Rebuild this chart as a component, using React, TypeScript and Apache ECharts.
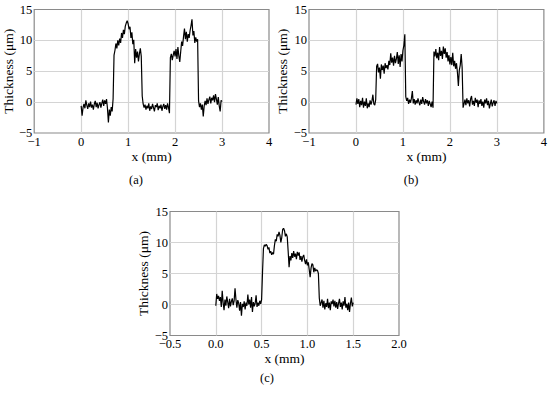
import React, { useEffect, useRef } from "react";
import * as echarts from "echarts";

// Sampling step (mm) of each profile
const stepA = 0.02;
const stepB = 0.02;
const stepC = 0.01;

// Thickness profiles (µm)
const thicknessA = [
  -0.6, -2.2, -0.9, -0.3, -1.0, 0.3, -0.5, -1.1, -0.2, -0.8,
  0.1, -0.9, -0.4, -1.2, -0.3, 0.2, -0.8, -0.1, -1.0, -0.4,
  0.0, -0.9, -0.2, 0.4, -0.6, 0.3, -0.3, 0.5, -1.0, -3.3,
  -1.2, -2.2, -0.8, -1.5, 0.5, 7.6, 8.4, 9.5, 8.7, 10.0,
  9.2, 10.3, 9.6, 11.2, 10.4, 11.7, 11.0, 12.3, 12.8, 13.2,
  12.7, 11.8, 12.2, 10.4, 11.3, 9.4, 10.1, 6.3, 8.6, 7.2,
  8.2, 6.6, 7.8, 8.7, 7.4, 1.0, -0.3, -0.9, -0.4, -1.2,
  -0.6, -1.0, -0.2, -1.4, -0.7, -1.1, -0.3, -0.9, -1.5, -0.5,
  -0.8, -0.2, -1.3, -0.6, -1.0, -0.4, -1.4, -0.7, -0.3, -1.1,
  -0.5, -1.2, -0.2, -0.9, -1.8, 7.2, 7.8, 6.8, 7.6, 8.3,
  7.4, 8.6, 7.0, 8.9, 7.5, 6.5, 8.2, 9.8, 9.1, 10.6,
  11.9, 10.2, 11.4, 9.8, 11.0, 10.4, 11.6, 12.4, 13.4, 10.8,
  11.5, 9.6, 10.5, 9.8, 10.2, 0.2, -0.8, -0.2, -1.2, -0.4,
  -2.3, -0.6, 0.2, -0.5, 0.6, -0.3, 0.4, 0.9, -0.2, 0.7,
  0.3, 1.1, 0.0, 1.3, 0.5, -0.4, 0.8, -0.6, -1.5, 0.3,
  0.1,
];

const thicknessB = [
  -0.4, 0.6, -0.3, 0.5, -0.8, 0.2, -0.5, 0.7, -0.9, 0.1,
  -0.6, 0.6, -1.0, -0.2, -0.8, 0.3, -0.4, 0.2, 1.2, -0.3,
  -0.5, 0.4, 5.8, 6.2, 4.8, 5.6, 3.8, 6.1, 5.2, 5.9,
  4.6, 6.3, 5.5, 6.0, 5.3, 6.7, 6.0, 7.9, 6.4, 7.2,
  5.9, 7.5, 6.3, 7.0, 8.1, 6.2, 7.6, 5.7, 7.8, 6.6,
  8.4, 9.2, 11.0, 0.9, 0.2, 0.7, -0.3, 0.4, -0.1, 0.6,
  1.8, -0.2, 0.5, -0.4, 0.3, -0.2, 0.6, 0.0, -0.5, 0.4,
  -0.3, 0.8, 0.1, -0.4, 0.5, -0.2, 0.3, -0.6, 0.2, -0.3,
  -0.8, 0.1, -0.9, 8.2, 7.4, 8.6, 7.1, 8.0, 6.8, 8.9,
  7.5, 8.3, 7.0, 9.0, 7.8, 8.7, 7.2, 8.1, 6.6, 7.6,
  6.1, 7.3, 6.0, 8.0, 5.8, 6.7, 5.4, 6.3, 4.8, 2.6,
  5.2, 6.0, 7.8, 5.6, -0.9, -0.3, 0.4, -0.5, 0.6, -0.2,
  0.3, -0.7, 0.5, 1.0, -0.4, 0.2, -0.6, 0.7, -0.1, 0.4,
  -0.8, 0.3, -0.3, 0.5, -0.6, 0.1, -0.9, 0.4, -0.2, 0.6,
  -0.5, 0.2, -1.0, -0.3, 0.4, -0.7, -0.1, 0.3, -0.6, 0.2,
  -0.2,
];

const thicknessC = [
  -0.2, 1.7, 0.9, 1.4, 0.6, 1.2, -0.4, 2.2, 0.3, -0.9,
  0.8, -0.2, 1.3, 0.4, -0.6, 0.9, -0.3, 0.5, 1.0, -0.1,
  0.6, 2.6, 0.8, -0.5, 0.7, 0.2, -1.0, 0.4, -1.8, 0.1,
  -0.4, 0.5, -0.8, 0.3, -0.2, 1.6, 0.0, 0.8, -0.5, 1.2,
  -1.2, 0.4, -0.3, 0.2, 1.5, -0.4, 0.3, -0.2, 0.6, 0.1,
  0.8, 5.2, 9.0, 9.6, 9.4, 9.7, 9.5, 8.9, 9.2, 8.3,
  8.6, 8.0, 8.4, 8.1, 9.5, 10.5, 10.2, 11.3, 11.0, 11.7,
  11.2, 10.0, 10.8, 12.1, 12.3, 11.9, 11.0, 11.4, 10.9, 8.6,
  6.0, 7.8, 7.1, 8.3, 7.5, 8.6, 7.7, 8.2, 7.3, 8.5,
  7.9, 8.4, 7.2, 7.8, 6.9, 7.7, 8.0, 7.1, 6.5, 7.3,
  6.3, 6.8, 5.6, 4.4, 5.9, 6.6, 6.4, 5.2, 5.9, 5.4,
  5.6, 5.5, 5.0, 1.0, -0.2, 0.3, 0.8, -0.5, 0.6, -0.8,
  0.2, -0.4, 0.9, -0.6, 0.3, -0.9, 0.5, 0.1, 0.8, -0.3,
  0.6, -0.5, 0.4, -0.7, 0.2, 0.9, -0.4, 0.3, -0.8, 0.5,
  -0.2, 1.2, -0.5, 0.1, -0.9, 0.3, -1.2, 0.2, 1.1, -0.3,
  0.3,
];

// Axis settings
const xRangeAB = { min: -1, max: 4, interval: 1 };
const xRangeC = { min: -0.5, max: 2, interval: 0.5 };
const yRange = { min: -5, max: 15, interval: 5 };
const xTitle = "x (mm)";
const yTitle = "Thickness (μm)";
const captions = ["(a)", "(b)", "(c)"];

const FONT = "'Liberation Serif', 'Times New Roman', serif";

const toPairs = (vals: number[], step: number) =>
  vals.map((v, i) => [+(i * step).toFixed(4), v]);

const fmtInt = (v: number) => (v < 0 ? "\u2212" + Math.abs(v) : String(v));
const fmt1 = (v: number) =>
  (v < 0 ? "\u2212" : "") + Math.abs(v).toFixed(1);

export default function App() {
  const ref = useRef<HTMLDivElement>(null);

  useEffect(() => {
    if (!ref.current) return;
    const chart = echarts.init(ref.current, null, { renderer: "svg" });

    const grids = [
      { left: 34, top: 9.5, width: 235, height: 123.5 },
      { left: 309, top: 9.5, width: 235, height: 123.5 },
      { left: 170, top: 211.5, width: 229, height: 124 },
    ].map((g) => ({
      ...g,
      show: true,
      borderColor: "#8a8a8a",
      borderWidth: 1.2,
      backgroundColor: "transparent",
    }));

    const labelStyle = { fontFamily: FONT, fontSize: 12.5, color: "#000" };
    const splitLine = {
      show: true,
      showMinLine: false,
      showMaxLine: false,
      lineStyle: { color: "#d4d4d4", width: 1.2 },
    };

    const xAxes = [0, 1, 2].map((i) => {
      const r = i === 2 ? xRangeC : xRangeAB;
      return {
        type: "value",
        gridIndex: i,
        min: r.min,
        max: r.max,
        interval: r.interval,
        name: xTitle,
        nameLocation: "middle",
        nameGap: 16,
        nameTextStyle: { fontFamily: FONT, fontSize: 13.5, color: "#000" },
        axisLine: { show: false },
        axisTick: { show: false },
        axisLabel: {
          ...labelStyle,
          margin: 2,
          formatter: i === 2 ? fmt1 : fmtInt,
        },
        splitLine,
      };
    });

    const yAxes = [0, 1, 2].map((i) => ({
      type: "value",
      gridIndex: i,
      min: yRange.min,
      max: yRange.max,
      interval: yRange.interval,
      name: yTitle,
      nameLocation: "middle",
      nameGap: 17,
      nameRotate: 90,
      nameTextStyle: { fontFamily: FONT, fontSize: 13.5, color: "#000" },
      axisLine: { show: false },
      axisTick: { show: false },
      axisLabel: { ...labelStyle, margin: 2, formatter: fmtInt },
      splitLine,
    }));

    const datasets = [
      toPairs(thicknessA, stepA),
      toPairs(thicknessB, stepB),
      toPairs(thicknessC, stepC),
    ];

    const series = datasets.map((d, i) => ({
      type: "line",
      xAxisIndex: i,
      yAxisIndex: i,
      data: d,
      showSymbol: false,
      lineStyle: { color: "#000", width: 1.2 },
      silent: true,
    }));

    const capPos = [
      [136, 180],
      [411, 180],
      [267, 378],
    ];

    chart.setOption({
      animation: false,
      grid: grids,
      xAxis: xAxes,
      yAxis: yAxes,
      series,
      graphic: captions.map((c, i) => ({
        type: "text",
        x: capPos[i][0],
        y: capPos[i][1],
        style: {
          text: c,
          fontFamily: FONT,
          fontSize: 12.5,
          fill: "#000",
          align: "center",
          verticalAlign: "middle",
        },
      })),
    });

    return () => chart.dispose();
  }, []);

  return (
    <div
      ref={ref}
      style={{ position: "absolute", left: 0, top: 0, width: 550, height: 393 }}
    />
  );
}
